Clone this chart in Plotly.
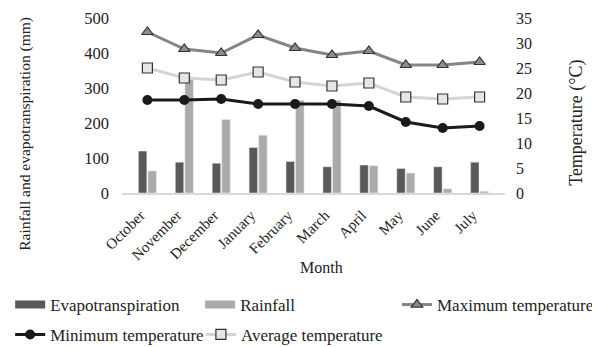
import plotly.graph_objects as go

months = ["October", "November", "December", "January", "February", "March",
          "April", "May", "June", "July"]
evapotranspiration = [120, 88, 85, 130, 90, 75, 80, 70, 75, 88]
rainfall = [63, 332, 210, 165, 265, 265, 78, 57, 12, 5]
max_temp = [32.2, 28.8, 28.0, 31.6, 29.0, 27.6, 28.4, 25.6, 25.6, 26.2]
min_temp = [18.6, 18.6, 18.8, 17.8, 17.8, 17.8, 17.4, 14.2, 13.0, 13.4]
avg_temp = [25.0, 23.0, 22.6, 24.2, 22.2, 21.4, 22.0, 19.2, 18.8, 19.2]

FONT = "Liberation Serif"
LEGFONT = dict(size=17, family=FONT, color="#222222")
EVAP_COLOR = "#595959"
RAIN_COLOR = "#ababab"

fig = go.Figure()
fig.add_trace(go.Bar(x=months, y=evapotranspiration, name="Evapotranspiration",
                     marker=dict(color=EVAP_COLOR), showlegend=False,
                     legendgroup="evap"))
fig.add_trace(go.Bar(x=months, y=rainfall, name="Rainfall",
                     marker=dict(color=RAIN_COLOR), showlegend=False,
                     legendgroup="rain"))
# legend swatches (wide rectangles like the original)
fig.add_trace(go.Scatter(x=[None], y=[None], mode="lines", name="Evapotranspiration",
                         line=dict(color=EVAP_COLOR, width=8), legend="legend",
                         legendgroup="evap"))
fig.add_trace(go.Scatter(x=[None], y=[None], mode="lines", name="Rainfall",
                         line=dict(color=RAIN_COLOR, width=8), legend="legend2",
                         legendgroup="rain"))
fig.add_trace(go.Scatter(x=months, y=max_temp, name="Maximum temperature", yaxis="y2",
                         mode="lines+markers",
                         line=dict(color="#858585", width=3),
                         marker=dict(symbol="triangle-up", size=10, color="#8c8c8c",
                                     line=dict(color="#333333", width=1.2)),
                         legend="legend3"))
fig.add_trace(go.Scatter(x=months, y=min_temp, name="Minimum temperature", yaxis="y2",
                         mode="lines+markers",
                         line=dict(color="#1a1a1a", width=3),
                         marker=dict(symbol="circle", size=10, color="#1a1a1a"),
                         legend="legend4"))
fig.add_trace(go.Scatter(x=months, y=avg_temp, name="Average temperature", yaxis="y2",
                         mode="lines+markers",
                         line=dict(color="#d4d4d4", width=3),
                         marker=dict(symbol="square", size=10, color="#e6e6e6",
                                     line=dict(color="#333333", width=1.2)),
                         legend="legend5"))


def leg(x, y):
    return dict(orientation="h", x=x, y=y, xanchor="left", yanchor="middle",
                itemwidth=30, font=LEGFONT, bgcolor="rgba(0,0,0,0)",
                borderwidth=0)


fig.update_layout(
    width=600, height=347,
    margin=dict(l=114, r=103, t=10, b=162, autoexpand=False),
    paper_bgcolor="white", plot_bgcolor="white",
    font=dict(family=FONT, size=15, color="#222222"),
    barmode="group", bargap=0.48, bargroupgap=0.12,
    xaxis=dict(showgrid=False, showline=True, linecolor="#d9d9d9", linewidth=1.5,
               tickangle=-45, ticks="", tickfont=dict(size=15, family=FONT),
               ticklabelshift=-7, ticklabelstandoff=6),
    yaxis=dict(range=[0, 500], dtick=100, showgrid=False, showline=False,
               zeroline=False, ticks="", ticklabelstandoff=12,
               tickfont=dict(size=16.5, family=FONT)),
    yaxis2=dict(range=[0, 35], dtick=5, overlaying="y", side="right", showgrid=False,
                showline=False, zeroline=False, ticks="", ticklabelstandoff=10,
                tickfont=dict(size=16, family=FONT)),
    showlegend=True,
    legend=leg(-0.292, -0.64),
    legend2=leg(0.204, -0.64),
    legend3=leg(0.718, -0.64),
    legend4=leg(-0.292, -0.811),
    legend5=leg(0.206, -0.811),
    annotations=[
        dict(text="Month", x=0.52, y=-0.427, xref="paper", yref="paper",
             showarrow=False, font=dict(size=16, family=FONT), yanchor="middle"),
        dict(text="Rainfall and evapotranspiration (mm)", x=-0.254, y=0.337,
             xref="paper", yref="paper", showarrow=False, textangle=-90,
             yanchor="middle", xanchor="center", font=dict(size=15.5, family=FONT)),
        dict(text="Temperature (°C)", x=1.185, y=0.40, xref="paper", yref="paper",
             showarrow=False, textangle=-90, xanchor="center", yanchor="middle",
             font=dict(size=18, family=FONT)),
    ],
)

fig.write_html("out.html")
